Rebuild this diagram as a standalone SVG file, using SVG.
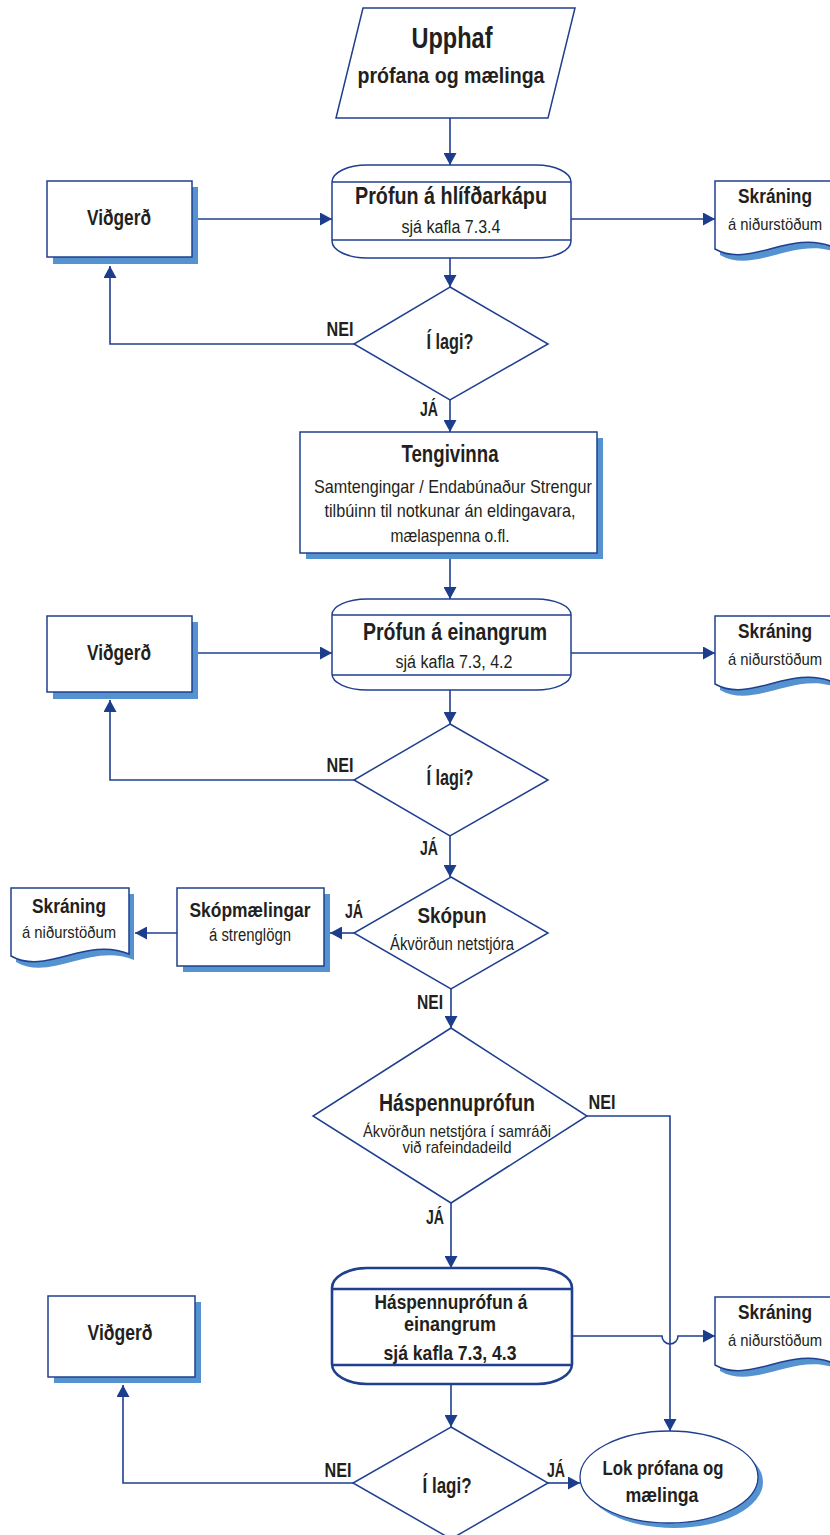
<svg xmlns="http://www.w3.org/2000/svg" width="830" height="1535" viewBox="0 0 830 1535">
<style>
.s{fill:#fff;stroke:#1f3f8f;stroke-width:1.5}
.sh{fill:#5592d0;stroke:none}
.c{fill:none;stroke:#1f3f8f;stroke-width:1.6}
text{font-family:"Liberation Sans Narrow","Liberation Sans",Arial,sans-serif;fill:#231f20;text-anchor:middle}
.b{font-weight:bold}
</style>
<defs>
<marker id="a" markerUnits="userSpaceOnUse" markerWidth="13" markerHeight="13" refX="12" refY="6.5" orient="auto">
<path d="M0,0 L12,6.5 L0,13 z" fill="#1c3c8c"/>
</marker>
<path id="doc" d="M0,0 H118 V66 C75,48 35,88 0,68 Z"/>
</defs>
<rect width="830" height="1535" fill="#fff"/>

<g id="connectors">
<path class="c" d="M450,118 V165" marker-end="url(#a)"/>
<path class="c" d="M192,219 H332" marker-end="url(#a)"/>
<path class="c" d="M571,219 H715" marker-end="url(#a)"/>
<path class="c" d="M450,258 V287" marker-end="url(#a)"/>
<path class="c" d="M354,344 H110 V266" marker-end="url(#a)"/>
<path class="c" d="M450,400 V432" marker-end="url(#a)"/>
<path class="c" d="M450,553 V599" marker-end="url(#a)"/>
<path class="c" d="M192,653 H332" marker-end="url(#a)"/>
<path class="c" d="M571,653 H715" marker-end="url(#a)"/>
<path class="c" d="M450,690 V724" marker-end="url(#a)"/>
<path class="c" d="M354,780 H110 V700" marker-end="url(#a)"/>
<path class="c" d="M450,836 V877" marker-end="url(#a)"/>
<path class="c" d="M354,933 H330" marker-end="url(#a)"/>
<path class="c" d="M177,933 H135" marker-end="url(#a)"/>
<path class="c" d="M451,989 V1028" marker-end="url(#a)"/>
<path class="c" d="M587,1116 H670 V1431" marker-end="url(#a)"/>
<path class="c" d="M451,1203 V1268" marker-end="url(#a)"/>
<path class="c" d="M573,1336 H662 A8,8 0 0 0 678,1336 H715" marker-end="url(#a)"/>
<path class="c" d="M451,1384 V1427" marker-end="url(#a)"/>
<path class="c" d="M548,1483 H580" marker-end="url(#a)"/>
<path class="c" d="M353,1483 H123 V1385" marker-end="url(#a)"/>
</g>

<g id="start">
<path class="s" d="M363,8 H575 L548,118 H336 Z"/>
<text class="b" x="452" y="48" font-size="30" textLength="81" lengthAdjust="spacingAndGlyphs">Upphaf</text>
<text class="b" x="451" y="83" font-size="22" textLength="187" lengthAdjust="spacingAndGlyphs">prófana og mælinga</text>
</g>

<g id="test1">
<rect class="s" x="332" y="165" width="239" height="93" rx="35" ry="17"/>
<path class="c" d="M332,182 H571 M332,240 H571"/>
<text class="b" x="451" y="204" font-size="23" textLength="192" lengthAdjust="spacingAndGlyphs">Prófun á hlífðarkápu</text>
<text x="451" y="233" font-size="18" textLength="99" lengthAdjust="spacingAndGlyphs">sjá kafla 7.3.4</text>
</g>

<g id="repair1">
<rect class="sh" x="53" y="187" width="145" height="77"/>
<rect class="s" x="47" y="181" width="145" height="76"/>
<text class="b" x="119" y="225" font-size="22" textLength="64" lengthAdjust="spacingAndGlyphs">Viðgerð</text>
</g>

<g id="record1">
<use href="#doc" x="720" y="187" class="sh"/>
<use href="#doc" x="715" y="181" class="s"/>
<text class="b" x="775" y="203" font-size="20" textLength="74" lengthAdjust="spacingAndGlyphs">Skráning</text>
<text x="775" y="230" font-size="17" textLength="94" lengthAdjust="spacingAndGlyphs">á niðurstöðum</text>
</g>

<g id="decision1">
<path class="s" d="M450,287 L548,344 L450,400 L354,344 Z"/>
<text class="b" x="450" y="349" font-size="22" textLength="47" lengthAdjust="spacingAndGlyphs">Í lagi?</text>
<text class="b" x="340" y="336" font-size="20" textLength="27" lengthAdjust="spacingAndGlyphs">NEI</text>
<text class="b" x="429" y="416" font-size="20" textLength="18" lengthAdjust="spacingAndGlyphs">JÁ</text>
</g>

<g id="tengivinna">
<rect class="sh" x="306" y="438" width="297" height="121"/>
<rect class="s" x="300" y="432" width="297" height="121"/>
<text class="b" x="450" y="462" font-size="23" textLength="97" lengthAdjust="spacingAndGlyphs">Tengivinna</text>
<text x="453" y="493" font-size="19" textLength="278" lengthAdjust="spacingAndGlyphs">Samtengingar / Endabúnaður Strengur</text>
<text x="450" y="517" font-size="19" textLength="251" lengthAdjust="spacingAndGlyphs">tilbúinn til notkunar án eldingavara,</text>
<text x="450" y="542" font-size="19" textLength="119" lengthAdjust="spacingAndGlyphs">mælaspenna o.fl.</text>
</g>

<g id="test2">
<rect class="s" x="332" y="599" width="239" height="91" rx="35" ry="16"/>
<path class="c" d="M332,615 H571 M332,675 H571"/>
<text class="b" x="455" y="640" font-size="23" textLength="184" lengthAdjust="spacingAndGlyphs">Prófun á einangrum</text>
<text x="454" y="668" font-size="18" textLength="117" lengthAdjust="spacingAndGlyphs">sjá kafla 7.3, 4.2</text>
</g>

<g id="repair2">
<rect class="sh" x="53" y="622" width="145" height="77"/>
<rect class="s" x="47" y="616" width="145" height="76"/>
<text class="b" x="119" y="660" font-size="22" textLength="64" lengthAdjust="spacingAndGlyphs">Viðgerð</text>
</g>

<g id="record2">
<use href="#doc" x="720" y="622" class="sh"/>
<use href="#doc" x="715" y="616" class="s"/>
<text class="b" x="775" y="638" font-size="20" textLength="74" lengthAdjust="spacingAndGlyphs">Skráning</text>
<text x="775" y="665" font-size="17" textLength="94" lengthAdjust="spacingAndGlyphs">á niðurstöðum</text>
</g>

<g id="decision2">
<path class="s" d="M450,724 L548,780 L450,836 L354,780 Z"/>
<text class="b" x="450" y="785" font-size="22" textLength="47" lengthAdjust="spacingAndGlyphs">Í lagi?</text>
<text class="b" x="340" y="772" font-size="20" textLength="27" lengthAdjust="spacingAndGlyphs">NEI</text>
<text class="b" x="429" y="855" font-size="20" textLength="18" lengthAdjust="spacingAndGlyphs">JÁ</text>
</g>

<g id="scope">
<path class="s" d="M451,877 L548,933 L451,989 L354,933 Z"/>
<text class="b" x="452" y="923" font-size="22" textLength="69" lengthAdjust="spacingAndGlyphs">Skópun</text>
<text x="452" y="950" font-size="18" textLength="124" lengthAdjust="spacingAndGlyphs">Ákvörðun netstjóra</text>
<text class="b" x="354" y="918" font-size="20" textLength="18" lengthAdjust="spacingAndGlyphs">JÁ</text>
<text class="b" x="430" y="1009" font-size="20" textLength="26" lengthAdjust="spacingAndGlyphs">NEI</text>
</g>

<g id="scopemeasure">
<rect class="sh" x="183" y="894" width="147" height="78"/>
<rect class="s" x="177" y="888" width="147" height="78"/>
<text class="b" x="250" y="917" font-size="21" textLength="121" lengthAdjust="spacingAndGlyphs">Skópmælingar</text>
<text x="250" y="941" font-size="18" textLength="82" lengthAdjust="spacingAndGlyphs">á strenglögn</text>
</g>

<g id="record3">
<use href="#doc" x="16" y="894" class="sh"/>
<use href="#doc" x="11" y="888" class="s"/>
<text class="b" x="69" y="913" font-size="20" textLength="74" lengthAdjust="spacingAndGlyphs">Skráning</text>
<text x="69" y="938" font-size="17" textLength="94" lengthAdjust="spacingAndGlyphs">á niðurstöðum</text>
</g>

<g id="hvdecision">
<path class="s" d="M451,1028 L587,1116 L451,1203 L313,1116 Z"/>
<text class="b" x="457" y="1111" font-size="23" textLength="156" lengthAdjust="spacingAndGlyphs">Háspennuprófun</text>
<text x="457" y="1137" font-size="17" textLength="188" lengthAdjust="spacingAndGlyphs">Ákvörðun netstjóra í samráði</text>
<text x="457" y="1153" font-size="17" textLength="109" lengthAdjust="spacingAndGlyphs">við rafeindadeild</text>
<text class="b" x="602" y="1109" font-size="20" textLength="27" lengthAdjust="spacingAndGlyphs">NEI</text>
<text class="b" x="435" y="1224" font-size="20" textLength="18" lengthAdjust="spacingAndGlyphs">JÁ</text>
</g>

<g id="hvtest">
<rect x="332" y="1268" width="240" height="116" rx="35" ry="20" fill="#fff" stroke="#1f3f8f" stroke-width="2.6"/>
<path fill="none" stroke="#1f3f8f" stroke-width="2.6" d="M332,1289 H572 M332,1365 H572"/>
<text class="b" x="451" y="1309" font-size="21" textLength="153" lengthAdjust="spacingAndGlyphs">Háspennuprófun á</text>
<text class="b" x="450" y="1331" font-size="21" textLength="92" lengthAdjust="spacingAndGlyphs">einangrum</text>
<text class="b" x="450" y="1360" font-size="21" textLength="133" lengthAdjust="spacingAndGlyphs">sjá kafla 7.3, 4.3</text>
</g>

<g id="repair3">
<rect class="sh" x="54" y="1302" width="147" height="81"/>
<rect class="s" x="48" y="1296" width="147" height="81"/>
<text class="b" x="120" y="1340" font-size="22" textLength="65" lengthAdjust="spacingAndGlyphs">Viðgerð</text>
</g>

<g id="record4">
<use href="#doc" x="720" y="1303" class="sh"/>
<use href="#doc" x="715" y="1297" class="s"/>
<text class="b" x="775" y="1319" font-size="20" textLength="74" lengthAdjust="spacingAndGlyphs">Skráning</text>
<text x="775" y="1346" font-size="17" textLength="94" lengthAdjust="spacingAndGlyphs">á niðurstöðum</text>
</g>

<g id="decision3">
<path class="s" d="M451,1427 L548,1483 L451,1539 L353,1483 Z"/>
<text class="b" x="447" y="1493" font-size="22" textLength="49" lengthAdjust="spacingAndGlyphs">Í lagi?</text>
<text class="b" x="338" y="1477" font-size="20" textLength="27" lengthAdjust="spacingAndGlyphs">NEI</text>
<text class="b" x="556" y="1477" font-size="20" textLength="18" lengthAdjust="spacingAndGlyphs">JÁ</text>
</g>

<g id="end">
<ellipse class="sh" cx="674" cy="1482" rx="89" ry="46"/>
<ellipse cx="669" cy="1477" rx="89" ry="46" fill="#fff" stroke="#1f3f8f" stroke-width="1.3"/>
<text class="b" x="663" y="1475" font-size="21" textLength="121" lengthAdjust="spacingAndGlyphs">Lok prófana og</text>
<text class="b" x="662" y="1502" font-size="21" textLength="73" lengthAdjust="spacingAndGlyphs">mælinga</text>
</g>
</svg>
